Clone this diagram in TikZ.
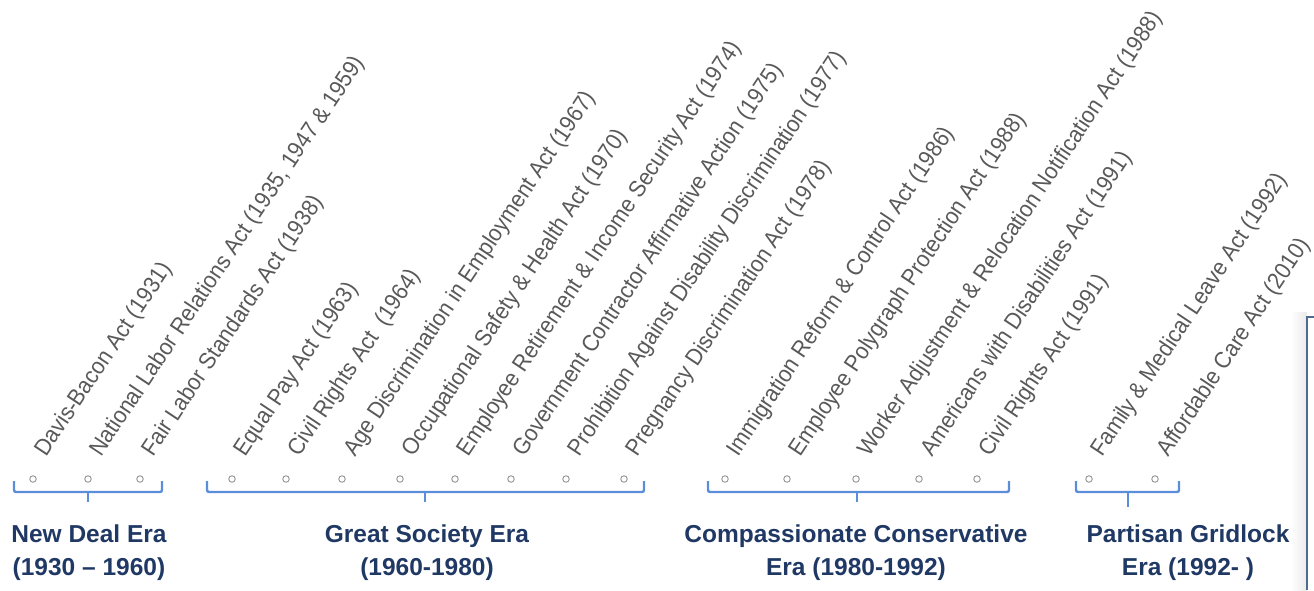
\documentclass[tikz,border=0pt]{standalone}
\usepackage{fontspec}
\setmainfont{Liberation Sans}
\newfontfamily\uufont[FakeStretch=0.925]{Liberation Sans}
\usetikzlibrary{positioning}

\definecolor{kurungbiru}{HTML}{5B8ED8}
\definecolor{eranavy}{HTML}{1F3864}
\definecolor{teksabu}{HTML}{595959}
\definecolor{bingkai}{HTML}{4F6A8F}

\begin{document}
\begin{tikzpicture}[
  x=1pt, y=-1pt,
  titik/.style={
    circle, draw=gray!85, fill=white, line width=0.9pt,
    inner sep=0pt, minimum size=6.5pt
  },
  uu/.style={
    rotate=56.3, anchor=base west, inner sep=0pt,
    text=teksabu, font=\uufont\fontsize{23.3}{27}\selectfont
  },
  kurung/.style={draw=kurungbiru, line width=2.4pt, rounded corners=2pt},
  era/.style={
    anchor=north, align=center, inner sep=0pt,
    text=eranavy, font=\bfseries\fontsize{24.5}{33}\selectfont
  }
]
\useasboundingbox (0,0) rectangle (1314,590);

% kotak di tepi kanan
\shade[left color=white, right color=black!8] (1290,312) rectangle (1307,590);
\fill[white] (1307,317) rectangle (1314,590);
\draw[bingkai, line width=2pt] (1314,317) -- (1307,317) -- (1307,590);

% undang-undang
\foreach \x/\uu [count=\i] in {
  33/Davis-Bacon Act (1931),
  {88/National Labor Relations Act (1935, 1947 \& 1959)},
  140/Fair Labor Standards Act (1938),
  232/Equal Pay Act (1963),
  286/Civil Rights Act\ \ (1964),
  342/Age Discrimination in Employment Act (1967),
  400/Occupational Safety \& Health Act (1970),
  455/Employee Retirement \& Income Security Act (1974),
  511/Government Contractor Affirmative Action (1975),
  566/Prohibition Against Disability Discrimination (1977),
  624/Pregnancy Discrimination Act (1978),
  725/Immigration Reform \& Control Act (1986),
  787/Employee Polygraph Protection Act (1988),
  856/Worker Adjustment \& Relocation Notification Act (1988),
  919/Americans with Disabilities Act (1991),
  977/Civil Rights Act (1991),
  1089/Family \& Medical Leave Act (1992),
  1155/Affordable Care Act (2010)}
{
  \node[titik] (t\i) at (\x,479) {};
  \node[uu]    (u\i) at ([shift={(13,-21)}]t\i.center) {\uu};
}

% kurung tiap era
\draw[kurung] (14,481)   |- (162,492)  -- (162,481);
\draw[kurung] (88,492)   -- (88,502);
\draw[kurung] (207,481)  |- (644,492)  -- (644,481);
\draw[kurung] (425,492)  -- (425,502);
\draw[kurung] (708,481)  |- (1009,492) -- (1009,481);
\draw[kurung] (857,492)  -- (857,502);
\draw[kurung] (1076,481) |- (1179,492) -- (1179,481);
\draw[kurung] (1128,492) -- (1128,507);

\node[era] (e1) at (89,525)   {New Deal Era\\(1930 -- 1960)};
\node[era] (e2) at (427,525)  {Great Society Era\\(1960-1980)};
\node[era] (e3) at (856,525)  {Compassionate Conservative\\Era (1980-1992)};
\node[era] (e4) at (1188,525) {Partisan Gridlock\\Era (1992- )};

\end{tikzpicture}
\end{document}
